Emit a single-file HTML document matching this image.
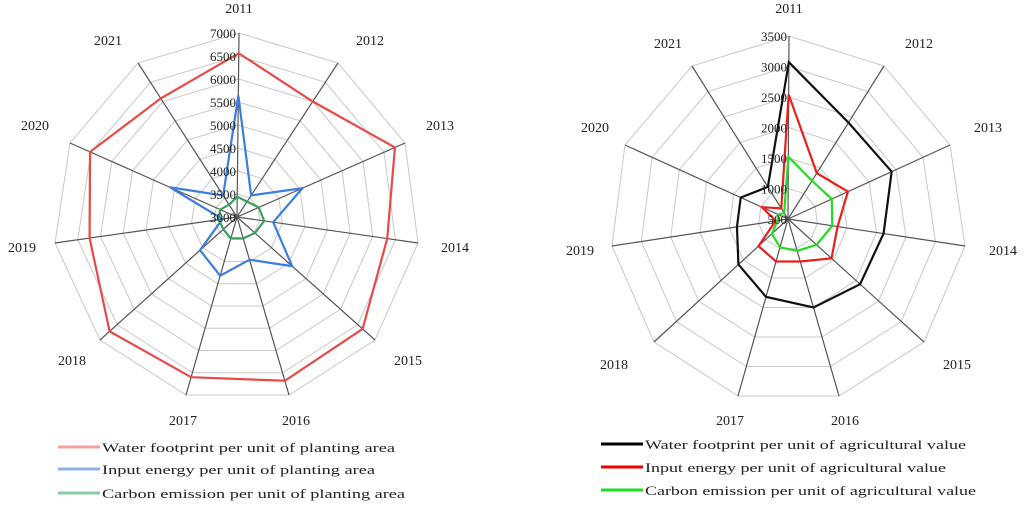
<!DOCTYPE html>
<html><head><meta charset="utf-8"><style>
body{margin:0;background:#fff}
svg{display:block}
text{font-family:"Liberation Serif",serif;font-size:14px;fill:#222}
.t{font-size:13px}
</style></head><body>
<svg id="s" width="1024" height="505" viewBox="0 0 1024 505">
<g id="g"></g>
<g>
<text x="239" y="13" text-anchor="middle">2011</text>
<text x="370" y="45" text-anchor="middle">2012</text>
<text x="440" y="130" text-anchor="middle">2013</text>
<text x="455" y="252" text-anchor="middle">2014</text>
<text x="408" y="365" text-anchor="middle">2015</text>
<text x="296" y="425" text-anchor="middle">2016</text>
<text x="183" y="425" text-anchor="middle">2017</text>
<text x="72" y="365" text-anchor="middle">2018</text>
<text x="22" y="252" text-anchor="middle">2019</text>
<text x="35" y="130" text-anchor="middle">2020</text>
<text x="108" y="45" text-anchor="middle">2021</text>

<text x="789" y="13" text-anchor="middle">2011</text>
<text x="919" y="48" text-anchor="middle">2012</text>
<text x="988" y="132" text-anchor="middle">2013</text>
<text x="1003" y="255" text-anchor="middle">2014</text>
<text x="957" y="369" text-anchor="middle">2015</text>
<text x="845" y="425" text-anchor="middle">2016</text>
<text x="730" y="425" text-anchor="middle">2017</text>
<text x="614" y="369" text-anchor="middle">2018</text>
<text x="580" y="255" text-anchor="middle">2019</text>
<text x="595" y="132" text-anchor="middle">2020</text>
<text x="668" y="48" text-anchor="middle">2021</text>
</g>
<g id="ticks"></g>
<g>
<line x1="58" y1="447" x2="100" y2="447" stroke="#f4a0a0" stroke-width="3"/>
<text class="t" x="102" y="452" textLength="293" lengthAdjust="spacingAndGlyphs">Water footprint per unit of planting area</text>
<line x1="58" y1="469" x2="100" y2="469" stroke="#8fb0e8" stroke-width="3"/>
<text class="t" x="102" y="474" textLength="273" lengthAdjust="spacingAndGlyphs">Input energy per unit of planting area</text>
<line x1="58" y1="493" x2="100" y2="493" stroke="#8cc8a8" stroke-width="3"/>
<text class="t" x="102" y="498" textLength="303" lengthAdjust="spacingAndGlyphs">Carbon emission per unit of planting area</text>

<line x1="601" y1="444" x2="643" y2="444" stroke="#000" stroke-width="3"/>
<text class="t" x="645" y="449" textLength="321" lengthAdjust="spacingAndGlyphs">Water footprint per unit of agricultural value</text>
<line x1="601" y1="467" x2="643" y2="467" stroke="#e00" stroke-width="3"/>
<text class="t" x="645" y="472" textLength="301" lengthAdjust="spacingAndGlyphs">Input energy per unit of agricultural value</text>
<line x1="601" y1="490" x2="643" y2="490" stroke="#2d2" stroke-width="3"/>
<text class="t" x="645" y="495" textLength="331" lengthAdjust="spacingAndGlyphs">Carbon emission per unit of agricultural value</text>
</g>
</svg>
<script>
var NS="http://www.w3.org/2000/svg",g=document.getElementById("g");
function el(n,a){var e=document.createElementNS(NS,n);for(var k in a)e.setAttribute(k,a[k]);g.appendChild(e);return e;}
function chart(c,E,rings,series){
  function pt(i,f){return [c[0]+(E[i][0]-c[0])*f,c[1]+(E[i][1]-c[1])*f];}
  for(var r=1;r<=rings;r++){var p=[];for(var i=0;i<11;i++)p.push(pt(i,r/rings).join(","));
    el("polygon",{points:p.join(" "),fill:"none",stroke:"#c8c8c8","stroke-width":1});}
  for(var i=0;i<11;i++)el("line",{x1:c[0],y1:c[1],x2:E[i][0],y2:E[i][1],stroke:"#555","stroke-width":1.2});
  series.forEach(function(s){var p=[];for(var i=0;i<11;i++)p.push(pt(i,s.v[i]).join(","));
    el("polygon",{points:p.join(" "),fill:"none",stroke:s.c,"stroke-width":2.2});});
}
chart([237,217],[[239,33],[338,63],[405,143],[418,243],[375,340],[289,395],[186,395],[100,340],[55,243],[70,143],[138,63]],8,[
 {c:"#e84a4a",v:[0.89,0.75,0.94,0.83,0.91,0.92,0.9,0.93,0.81,0.88,0.77]},
 {c:"#3a7ee0",v:[0.66,0.14,0.39,0.2,0.4,0.24,0.33,0.27,0.08,0.4,0.14]},
 {c:"#3aa060",v:[0.11,0.1,0.13,0.15,0.13,0.12,0.12,0.1,0.1,0.1,0.08]}]);
chart([788,219],[[789,36],[884,66],[950,145],[965,246],[924,342],[839,396],[738,396],[654,342],[612,246],[625,145],[692,66]],6,[
 {c:"#111",v:[0.857,0.63,0.64,0.54,0.53,0.5,0.44,0.37,0.29,0.29,0.21]},
 {c:"#e82020",v:[0.68,0.3,0.37,0.28,0.32,0.24,0.24,0.22,0.07,0.16,0.07]},
 {c:"#22dd22",v:[0.34,0.25,0.27,0.25,0.21,0.18,0.16,0.12,0.06,0.06,0.04]}]);
var t=document.getElementById("ticks");
function tk(x,y,s){var e=document.createElementNS(NS,"text");e.setAttribute("x",x);e.setAttribute("y",y);e.setAttribute("text-anchor","end");e.setAttribute("class","t");e.textContent=s;t.appendChild(e);}
for(var i=0;i<=8;i++)tk(236,217-i*23+5,String(3000+i*500));
for(var i=0;i<=6;i++)tk(787,219-i*30.5+5,String(500+i*500));
</script>
</body></html>
